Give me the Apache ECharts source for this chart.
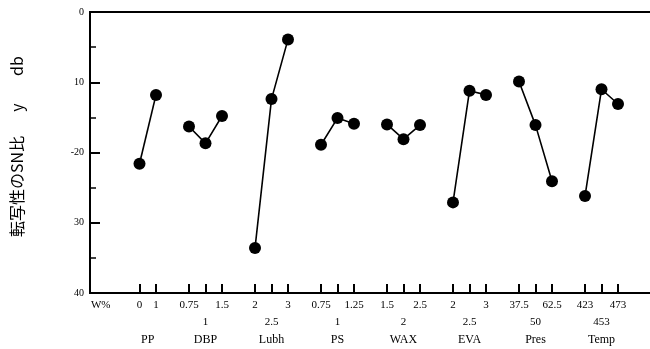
<!DOCTYPE html>
<html>
<head>
<meta charset="utf-8">
<script src="https://cdn.jsdelivr.net/npm/echarts@6/dist/echarts.min.js"></script>
<style>
	html, body { margin: 0; padding: 0; background: #fff; }
	#chart { width: 650px; height: 349px; }
</style>
</head>
<body>
<div id="chart"></div>
<script>
//Factors and their levels (PP only has two levels)
let factors = ['PP', 'DBP', 'Lubh', 'PS', 'WAX', 'EVA', 'Pres', 'Temp'];
let levelLabels = [
	['0', '1'],
	['0.75', '1', '1.5'],
	['2', '2.5', '3'],
	['0.75', '1', '1.25'],
	['1.5', '2', '2.5'],
	['2', '2.5', '3'],
	['37.5', '50', '62.5'],
	['423', '453', '473']
];
//SN ratio (plotted downwards)
let snValues = [
	[21.6, 11.8],
	[16.3, 18.7, 14.8],
	[33.6, 12.4, 3.9],
	[18.9, 15.1, 15.9],
	[16.0, 18.1, 16.1],
	[27.1, 11.2, 11.8],
	[9.9, 16.1, 24.1],
	[26.2, 11.0, 13.1]
];
let yTickLabels = ['0', '10', '-20', '30', '40'];
let unitLabel = 'W%';
let yName = '転写性のSN比\u3000\u2002y\u3000\u2002 db';

//Each factor takes 4 slots on the x axis, PP starts one slot in
function slotOf(g, l) {
	return (g === 0 ? 1 : 4 * g) + l;
}

let tickValues = [];
let labelValues = [];
let labelText = {};
let series = [];

for (let g = 0; g < factors.length; g++) {
	let levels = levelLabels[g];
	let pts = [];
	for (let l = 0; l < levels.length; l++) {
		let x = slotOf(g, l);
		tickValues.push(x);
		pts.push([x, snValues[g][l]]);
		if (levels.length === 3 && l === 1) {
			labelText[x] = '{a|\u00a0}\n{a|' + levels[l] + '}\n{n|' + factors[g] + '}';
		} else {
			labelText[x] = '{a|' + levels[l] + '}';
		}
		labelValues.push(x);
	}
	if (levels.length === 2) {
		let mid = slotOf(g, 0) + 0.5;
		labelText[mid] = '{a|\u00a0}\n{a|\u00a0}\n{n|' + factors[g] + '}';
		labelValues.push(mid);
	}
	series.push({
		type: 'line',
		name: factors[g],
		data: pts,
		symbol: 'circle',
		symbolSize: 12,
		lineStyle: { color: '#000', width: 1.6 },
		itemStyle: { color: '#000' },
		emphasis: { disabled: true }
	});
}
labelValues.push(-1.35);
labelText[-1.35] = '{a|' + unitLabel + '}';

let chart = echarts.init(document.getElementById('chart'));
chart.setOption({
	animation: false,
	grid: {
		left: 90, top: 12, bottom: 56, right: -1,
		outerBoundsMode: 'none',
		show: true, borderColor: '#000', borderWidth: 2
	},
	xAxis: {
		type: 'value',
		min: -2,
		max: 32,
		splitLine: { show: false },
		axisLine: { onZero: false, lineStyle: { color: '#000', width: 2 } },
		axisTick: {
			inside: true, length: 9,
			customValues: tickValues,
			lineStyle: { color: '#000', width: 2 }
		},
		axisLabel: {
			customValues: labelValues,
			margin: 4,
			formatter: function (v) { return labelText[v] || ''; },
			rich: {
				a: { fontFamily: 'Liberation Serif', fontSize: 11, lineHeight: 17, color: '#000' },
				n: { fontFamily: 'Liberation Serif', fontSize: 12, lineHeight: 18, color: '#000' }
			}
		}
	},
	yAxis: {
		type: 'value',
		inverse: true,
		min: 0,
		max: 40,
		interval: 10,
		splitLine: { show: false },
		axisLine: { show: true, onZero: false, lineStyle: { color: '#000', width: 2 } },
		axisTick: { inside: true, length: 10, lineStyle: { color: '#000', width: 2 } },
		minorTick: { show: true, splitNumber: 2, length: 6, lineStyle: { color: '#000', width: 1.5 } },
		axisLabel: {
			margin: 6,
			fontFamily: 'Liberation Serif', fontSize: 10, color: '#000',
			formatter: function (v) { return yTickLabels[v / 10]; }
		},
		name: yName,
		nameLocation: 'middle',
		nameRotate: 90,
		nameGap: 65,
		nameTextStyle: { fontFamily: 'Noto Sans CJK JP', fontSize: 16, color: '#000', padding: [0, 0, 0, 12] }
	},
	series: series
});
</script>
</body>
</html>
